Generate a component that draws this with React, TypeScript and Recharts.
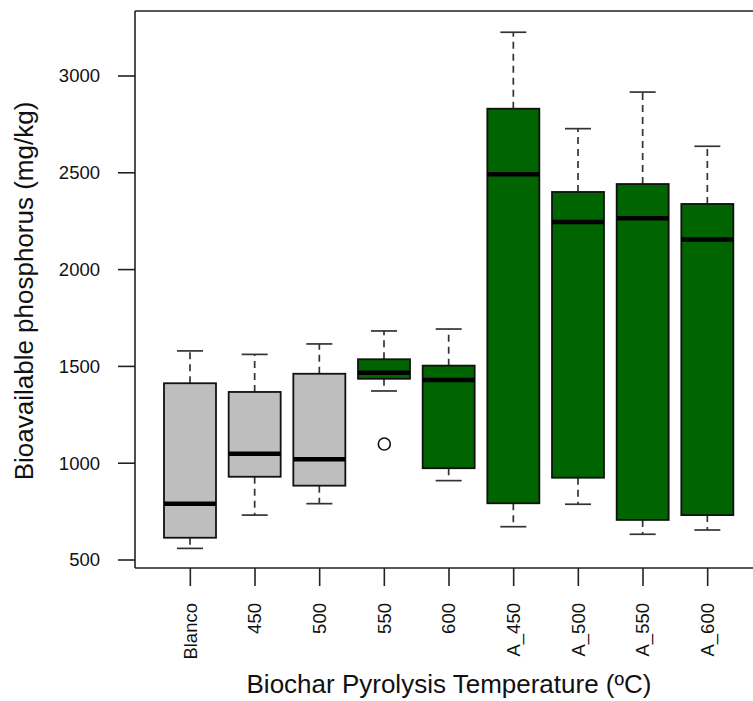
import React from 'react';
import { ComposedChart, Bar, Scatter, XAxis, YAxis, ReferenceLine } from 'recharts';

const categories = ['Blanco', '450', '500', '550', '600', 'A_450', 'A_500', 'A_550', 'A_600'];
const lowerWhisker = [560, 732, 791, 1373, 910, 672, 788, 633, 655];
const q1 = [615, 930, 884, 1436, 974, 793, 925, 707, 732];
const median = [791, 1049, 1020, 1467, 1430, 2492, 2246, 2265, 2156];
const q3 = [1413, 1368, 1462, 1537, 1504, 2831, 2401, 2442, 2339];
const upperWhisker = [1580, 1562, 1616, 1683, 1693, 3226, 2728, 2917, 2637];
const outliers: (number | null)[] = [null, null, null, 1099, null, null, null, null, null];
const fillColors = ['#BEBEBE', '#BEBEBE', '#BEBEBE', '#006400', '#006400', '#006400', '#006400', '#006400', '#006400'];
const yTicks = [500, 1000, 1500, 2000, 2500, 3000];
const yDomain: [number, number] = [458.7, 3335.7];

const data = categories.map((name, i) => ({
  name,
  box: [q1[i], q3[i]],
  lo: lowerWhisker[i],
  q1: q1[i],
  med: median[i],
  q3: q3[i],
  hi: upperWhisker[i],
  outlier: outliers[i],
  fill: fillColors[i],
}));

const FONT = '"Liberation Sans", Arial, Helvetica, sans-serif';
const LINE = '#222';
const WHISK = '#333';

const BoxShape = (props: any) => {
  const { x, y, width, height, payload } = props;
  if (!payload || !isFinite(y) || !isFinite(height)) return null;
  const top = Math.min(y, y + height);
  const h = Math.abs(height);
  const k = h / (payload.q3 - payload.q1);
  const py = (v: number) => top + (payload.q3 - v) * k;
  const cx = x + width / 2;
  const capHalf = width / 4;
  const yHi = py(payload.hi);
  const yLo = py(payload.lo);
  const yMed = py(payload.med);
  return (
    <g>
      <line x1={cx} x2={cx} y1={top} y2={yHi} stroke={WHISK} strokeWidth={1.7} strokeDasharray="7 5" />
      <line x1={cx} x2={cx} y1={top + h} y2={yLo} stroke={WHISK} strokeWidth={1.7} strokeDasharray="7 5" />
      <line x1={cx - capHalf} x2={cx + capHalf} y1={yHi} y2={yHi} stroke={WHISK} strokeWidth={1.7} />
      <line x1={cx - capHalf} x2={cx + capHalf} y1={yLo} y2={yLo} stroke={WHISK} strokeWidth={1.7} />
      <rect x={x} y={top} width={width} height={h} fill={payload.fill} stroke="#111" strokeWidth={1.8} />
      <line x1={x} x2={x + width} y1={yMed} y2={yMed} stroke="#000" strokeWidth={4.5} />
    </g>
  );
};

const OutlierShape = (props: any) => {
  const { cx, cy, payload } = props;
  if (!payload || payload.outlier == null || !isFinite(cy) || !isFinite(cx)) return null;
  return <circle cx={cx} cy={cy} r={6} fill="#fff" stroke="#111" strokeWidth={1.6} />;
};

const YTick = (props: any) => {
  const { x, y, payload } = props;
  return (
    <text x={x} y={y} dy="0.35em" textAnchor="end" fontSize={18.5} fontFamily={FONT} fill="#111">
      {payload.value}
    </text>
  );
};

const XTick = (props: any) => {
  const { x, y, payload } = props;
  return (
    <text
      x={x}
      y={y}
      dy="0.35em"
      textAnchor="end"
      fontSize={18.5}
      fontFamily={FONT}
      fill="#111"
      transform={`rotate(-90, ${x}, ${y})`}
    >
      {payload.value}
    </text>
  );
};

export default function App() {
  return (
    <div style={{ position: 'absolute', left: 0, top: 0, width: 753, height: 701, background: '#fff' }}>
      <ComposedChart
        width={753}
        height={701}
        data={data}
        margin={{ top: 11, right: 0, left: 0, bottom: 0 }}
        barSize={52}
      >
        <XAxis
          dataKey="name"
          type="category"
          interval={0}
          padding={{ left: 23, right: 13 }}
          height={133}
          tickSize={18}
          tickMargin={17}
          tick={<XTick />}
          tickLine={{ stroke: LINE, strokeWidth: 1.6 }}
          axisLine={{ stroke: LINE, strokeWidth: 1.6 }}
          label={{
            content: () => (
              <text x={449} y={693} textAnchor="middle" fontSize={26} fontFamily={FONT} fill="#111">
                Biochar Pyrolysis Temperature (ºC)
              </text>
            ),
          }}
        />
        <YAxis
          type="number"
          domain={yDomain}
          allowDataOverflow
          ticks={yTicks}
          width={135}
          tickSize={17}
          tickMargin={18}
          tick={<YTick />}
          tickLine={{ stroke: LINE, strokeWidth: 1.6 }}
          axisLine={{ stroke: LINE, strokeWidth: 1.6 }}
          label={{
            content: () => (
              <text
                x={33}
                y={291}
                textAnchor="middle"
                fontSize={26}
                fontFamily={FONT}
                fill="#111"
                transform="rotate(-90, 33, 291)"
              >
                Bioavailable phosphorus (mg/kg)
              </text>
            ),
          }}
        />
        <ReferenceLine y={yDomain[1]} stroke={LINE} strokeWidth={1.6} ifOverflow="visible" />
        <Bar dataKey="box" shape={<BoxShape />} isAnimationActive={false} />
        <Scatter dataKey="outlier" shape={<OutlierShape />} isAnimationActive={false} />
      </ComposedChart>
    </div>
  );
}
